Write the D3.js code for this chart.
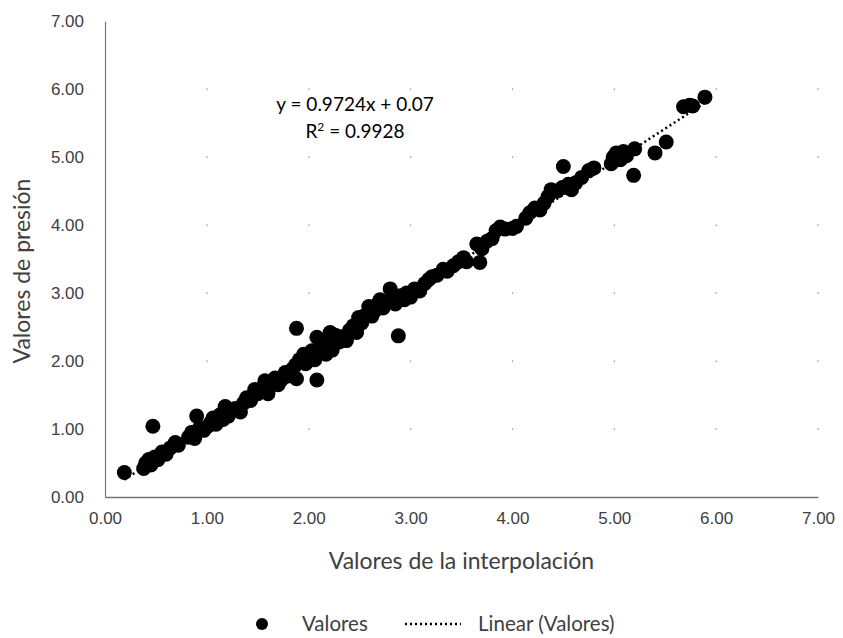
<!DOCTYPE html>
<html>
<head>
<meta charset="utf-8">
<script src="https://cdn.jsdelivr.net/npm/d3@7"></script>
<style>
  body { margin: 0; background: #fff; }
  svg { font-family: Lato, "Open Sans", sans-serif; }
  .tick text { fill: #404040; font-size: 17px; }
</style>
</head>
<body>
<div class="chart"></div>
<script>
var svgWidth = 843;
var svgHeight = 638;

var margin = { top: 21, right: 25, bottom: 141, left: 105 };
var width = svgWidth - margin.left - margin.right;
var height = svgHeight - margin.top - margin.bottom;

// Data: [interpolation value, pressure value]
var interpValues = [
  0.19, 0.38, 0.40, 0.43, 0.45, 0.47, 0.49, 0.52, 0.56, 0.60, 0.64, 0.69, 0.72, 0.82, 0.85, 0.88,
  0.90, 0.93, 0.97, 1.01, 1.04, 1.06, 1.09, 1.13, 1.16, 1.18, 1.21, 1.23, 1.28, 1.33, 1.36, 1.39,
  1.43, 1.47, 1.50, 1.54, 1.57, 1.60, 1.62, 1.67, 1.70, 1.73, 1.77, 1.80, 1.84, 1.87, 1.88, 1.88,
  1.91, 1.95, 1.97, 2.00, 2.03, 2.06, 2.08, 2.08, 2.10, 2.14, 2.17, 2.20, 2.21, 2.23, 2.26, 2.30,
  2.34, 2.37, 2.40, 2.44, 2.47, 2.49, 2.52, 2.56, 2.59, 2.62, 2.65, 2.68, 2.70, 2.73, 2.76, 2.80,
  2.82, 2.85, 2.88, 2.90, 2.94, 2.96, 3.00, 3.04, 3.09, 3.14, 3.18, 3.21, 3.26, 3.32, 3.36, 3.42,
  3.47, 3.52, 3.55, 3.65, 3.68, 3.70, 3.75, 3.80, 3.84, 3.88, 3.93, 4.00, 4.04, 4.13, 4.17, 4.22,
  4.27, 4.31, 4.35, 4.38, 4.44, 4.49, 4.50, 4.55, 4.58, 4.62, 4.68, 4.75, 4.80, 4.97, 4.99, 5.02,
  5.06, 5.09, 5.12, 5.19, 5.20, 5.40, 5.51, 5.68, 5.74, 5.77, 5.89
];
var pressureValues = [
  0.36, 0.42, 0.50, 0.55, 0.47, 1.04, 0.59, 0.55, 0.66, 0.63, 0.72, 0.80, 0.76, 0.88, 0.95, 0.86,
  1.19, 1.02, 0.98, 1.04, 1.10, 1.16, 1.07, 1.21, 1.14, 1.33, 1.19, 1.28, 1.30, 1.25, 1.38, 1.46,
  1.42, 1.58, 1.52, 1.60, 1.71, 1.52, 1.66, 1.75, 1.65, 1.72, 1.83, 1.78, 1.88, 1.94, 2.48, 1.74,
  2.02, 2.10, 1.96, 2.06, 2.15, 2.02, 1.72, 2.35, 2.18, 2.22, 2.10, 2.30, 2.42, 2.16, 2.38, 2.28,
  2.36, 2.30, 2.45, 2.52, 2.42, 2.64, 2.56, 2.68, 2.80, 2.66, 2.74, 2.84, 2.90, 2.78, 2.86, 3.06,
  2.92, 2.84, 2.37, 2.96, 2.90, 3.00, 2.94, 3.06, 3.03, 3.14, 3.20, 3.24, 3.26, 3.35, 3.32, 3.40,
  3.46, 3.52, 3.46, 3.72, 3.45, 3.65, 3.76, 3.80, 3.92, 3.97, 3.94, 3.95, 3.98, 4.10, 4.18, 4.25,
  4.22, 4.32, 4.42, 4.52, 4.50, 4.55, 4.86, 4.60, 4.52, 4.62, 4.70, 4.80, 4.84, 4.90, 5.00, 5.06,
  4.96, 5.08, 5.02, 4.73, 5.12, 5.06, 5.22, 5.74, 5.76, 5.75, 5.88
];

// Trendline as printed on the chart
var slope = 0.9724;
var intercept = 0.07;
var rSquared = 0.9928;

var tickValues = [0, 1, 2, 3, 4, 5, 6, 7];

var data = interpValues.map(function (x, i) { return { x: x, y: pressureValues[i] }; });

var svg = d3.select(".chart")
  .append("svg")
  .attr("width", svgWidth)
  .attr("height", svgHeight);

var chartGroup = svg.append("g")
  .attr("transform", `translate(${margin.left}, ${margin.top})`);

var xScale = d3.scaleLinear().domain([0, 7]).range([0, width]);
var yScale = d3.scaleLinear().domain([0, 7]).range([height, 0]);

// grid: tiny dots where the gridlines cross
var gridPts = [];
tickValues.slice(1).forEach(function (gx) {
  tickValues.slice(1, 7).forEach(function (gy) { gridPts.push([gx, gy]); });
});
chartGroup.selectAll(".griddot")
  .data(gridPts)
  .enter()
  .append("rect")
  .attr("class", "griddot")
  .attr("x", d => xScale(d[0]) - 0.5)
  .attr("y", d => yScale(d[1]) - 0.5)
  .attr("width", 1.2)
  .attr("height", 1.2)
  .attr("fill", "#7a7a7a");

// axes
var bottomAxis = d3.axisBottom(xScale).tickValues(tickValues).tickSize(0).tickPadding(15).tickFormat(d3.format(".2f"));
var leftAxis = d3.axisLeft(yScale).tickValues(tickValues).tickSize(0).tickPadding(21).tickFormat(d3.format(".2f"));

var xAxisG = chartGroup.append("g")
  .attr("transform", `translate(0, ${height})`)
  .call(bottomAxis);
var yAxisG = chartGroup.append("g").call(leftAxis);

xAxisG.select(".domain").attr("stroke", "#767676").attr("stroke-width", 1.5);
yAxisG.select(".domain").attr("stroke", "#767676").attr("stroke-width", 1.2);

// points
chartGroup.selectAll(".pt")
  .data(data)
  .enter()
  .append("circle")
  .attr("class", "pt")
  .attr("cx", d => xScale(d.x))
  .attr("cy", d => yScale(d.y))
  .attr("r", 7.5)
  .attr("fill", "#000");

// linear trendline over the data range
var xMin = d3.min(interpValues), xMax = d3.max(interpValues);
chartGroup.append("line")
  .attr("x1", xScale(xMin))
  .attr("y1", yScale(slope * xMin + intercept))
  .attr("x2", xScale(xMax))
  .attr("y2", yScale(slope * xMax + intercept))
  .attr("stroke", "#000")
  .attr("stroke-width", 2.5)
  .attr("stroke-dasharray", "2,3");

// equation label
var eq = chartGroup.append("text")
  .attr("x", 250)
  .attr("y", 90)
  .attr("text-anchor", "middle")
  .attr("font-size", 19)
  .attr("fill", "#000");
eq.append("tspan").attr("x", 250).text(`y = ${slope}x + ${intercept.toFixed(2)}`);
var r2 = eq.append("tspan").attr("x", 250).attr("dy", 27).text("R");
r2.append("tspan").attr("dy", -7).attr("font-size", 12).text("2");
eq.append("tspan").attr("dy", 7).text(` = ${rSquared}`);

// axis titles
chartGroup.append("text")
  .attr("transform", `translate(${width / 2}, ${height + 72})`)
  .attr("text-anchor", "middle")
  .attr("font-size", 23)
  .attr("fill", "#404040")
  .text("Valores de la interpolación");

chartGroup.append("text")
  .attr("transform", `translate(${-margin.left + 30}, ${height / 2 + 12}) rotate(-90)`)
  .attr("text-anchor", "middle")
  .attr("font-size", 23)
  .attr("fill", "#404040")
  .text("Valores de presión");

// legend
var legend = svg.append("g").attr("transform", "translate(0, 624)");
legend.append("circle").attr("cx", 262).attr("cy", 0).attr("r", 6).attr("fill", "#000");
legend.append("text").attr("x", 302).attr("y", 7).attr("font-size", 20.5).attr("fill", "#404040").text("Valores");
legend.append("line")
  .attr("x1", 405).attr("x2", 461).attr("y1", 0).attr("y2", 0)
  .attr("stroke", "#000").attr("stroke-width", 2.5).attr("stroke-dasharray", "2,3");
legend.append("text").attr("x", 478).attr("y", 7).attr("font-size", 20.5).attr("fill", "#404040").text("Linear (Valores)");
</script>
</body>
</html>
